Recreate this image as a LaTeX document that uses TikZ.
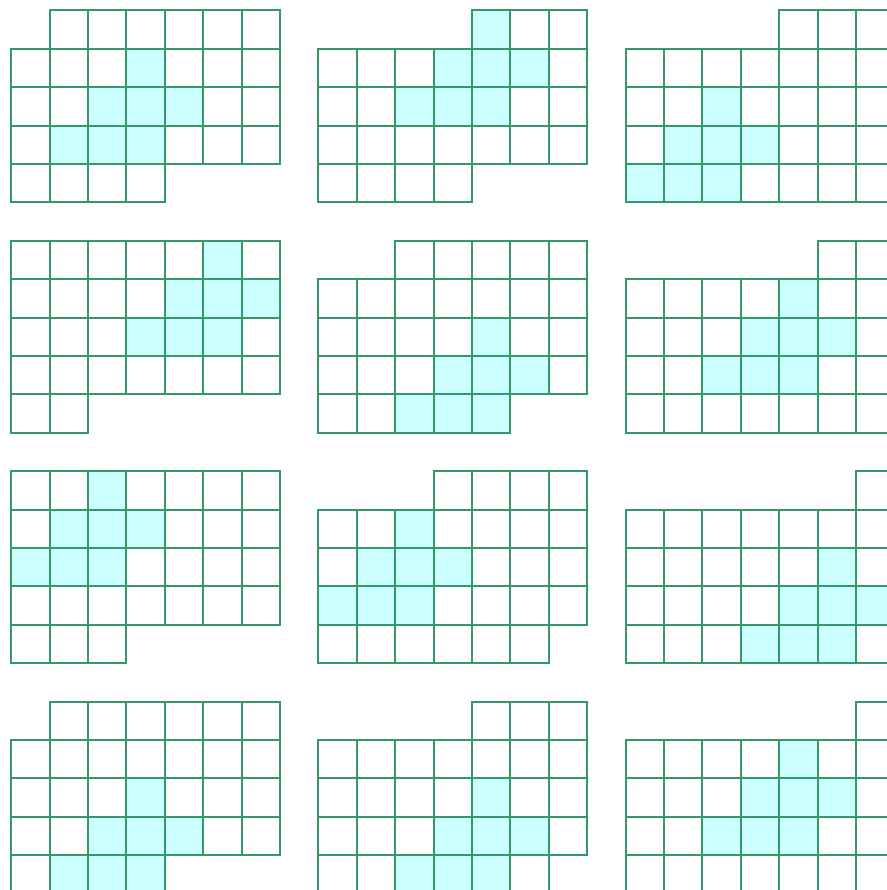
\documentclass[tikz,border=0pt]{standalone}
\definecolor{cellgreen}{RGB}{51,153,102}
\definecolor{cellcyan}{RGB}{204,255,255}
\tikzset{
  cellline/.style={draw=cellgreen,line width=1.45pt},
  shadefill/.style={fill=cellcyan}
}
\newcommand{\gridpanel}[4]{%
  \begin{scope}[shift={(#1,-#2)}]
    \foreach \r/\c in {#4} {\fill[shadefill] (\c,-\r) rectangle ++(1,-1);}
    \foreach \r/\a/\b in {#3} {%
      \foreach \c in {\a,...,\b} {\draw[cellline] (\c,-\r) rectangle ++(1,-1);}
    }
  \end{scope}}
\begin{document}
\begin{tikzpicture}
\useasboundingbox (0,0) rectangle (23.099,-23.177);
\clip (0,0) rectangle (23.099,-23.177);
\fill[white] (0,0) rectangle (23.099,-23.177);
% row 1
\gridpanel{0.29}{0.27}{0/1/6,1/0/6,2/0/6,3/0/6,4/0/3}{1/3,2/2,2/3,2/4,3/1,3/2,3/3}
\gridpanel{8.29}{0.27}{0/4/6,1/0/6,2/0/6,3/0/6,4/0/3}{0/4,1/3,1/4,1/5,2/2,2/3,2/4}
\gridpanel{16.29}{0.27}{0/4/6,1/0/6,2/0/6,3/0/6,4/0/6}{2/2,3/1,3/2,3/3,4/0,4/1,4/2}
% row 2
\gridpanel{0.29}{6.27}{0/0/6,1/0/6,2/0/6,3/0/6,4/0/1}{0/5,1/4,1/5,1/6,2/3,2/4,2/5}
\gridpanel{8.29}{6.27}{0/2/6,1/0/6,2/0/6,3/0/6,4/0/4}{2/4,3/3,3/4,3/5,4/2,4/3,4/4}
\gridpanel{16.29}{6.27}{0/5/6,1/0/6,2/0/6,3/0/6,4/0/6}{1/4,2/3,2/4,2/5,3/2,3/3,3/4}
% row 3
\gridpanel{0.29}{12.27}{0/0/6,1/0/6,2/0/6,3/0/6,4/0/2}{0/2,1/1,1/2,1/3,2/0,2/1,2/2}
\gridpanel{8.29}{12.27}{0/3/6,1/0/6,2/0/6,3/0/6,4/0/5}{1/2,2/1,2/2,2/3,3/0,3/1,3/2}
\gridpanel{16.29}{12.27}{0/6/6,1/0/6,2/0/6,3/0/6,4/0/6}{2/5,3/4,3/5,3/6,4/3,4/4,4/5}
% row 4
\gridpanel{0.29}{18.27}{0/1/6,1/0/6,2/0/6,3/0/6,4/0/3}{2/3,3/2,3/3,3/4,4/1,4/2,4/3}
\gridpanel{8.29}{18.27}{0/4/6,1/0/6,2/0/6,3/0/6,4/0/5}{2/4,3/3,3/4,3/5,4/2,4/3,4/4}
\gridpanel{16.29}{18.27}{0/6/6,1/0/6,2/0/6,3/0/6,4/0/6}{1/4,2/3,2/4,2/5,3/2,3/3,3/4}
\end{tikzpicture}
\end{document}
